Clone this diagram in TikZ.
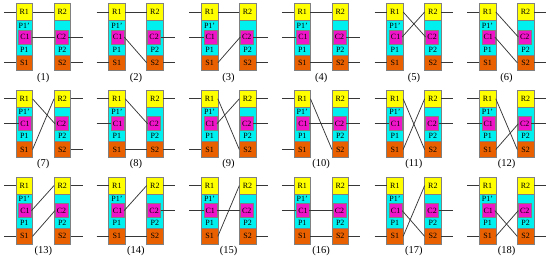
\documentclass[tikz,border=0pt]{standalone}
\usepackage{fontspec}
\setmainfont{Liberation Serif}
\usepackage{tikz}
\definecolor{ryellow}{RGB}{255,255,0}
\definecolor{pcyan}{RGB}{0,240,240}
\definecolor{cmagenta}{RGB}{240,20,200}
\definecolor{sorange}{RGB}{232,96,0}
\definecolor{edgegray}{RGB}{128,128,128}
\definecolor{wiregray}{RGB}{55,55,55}

\begin{document}
\begin{tikzpicture}[x=1pt, y=-1pt,
    box/.style={rectangle, draw=edgegray, line width=0.6pt, inner sep=0pt, outer sep=0pt, anchor=north west, minimum width=16.5pt, font=\fontsize{8}{9}\selectfont},
    rbox/.style={box, fill=ryellow, minimum height=17pt},
    pbox/.style={box, fill=pcyan, minimum height=34.5pt},
    sbox/.style={box, fill=sorange, minimum height=15.5pt},
    cbox/.style={rectangle, draw=edgegray, line width=0.6pt, fill=cmagenta, inner sep=0pt, outer sep=0pt, minimum width=13pt, minimum height=14pt, font=\fontsize{8}{9}\selectfont},
    tag/.style={inner sep=0pt, font=\fontsize{8}{9}\selectfont},
    num/.style={inner sep=0pt, font=\fontsize{10.5}{12}\selectfont},
    wire/.style={draw=wiregray, line width=0.75pt}]

    \useasboundingbox (0,0) rectangle (550,259);

    % number / column / row / left stubs / right stubs / links
    \foreach \idx/\col/\row/\lin/\rout/\links in {
        1/0/0/{R,S}/{C,S}/{R/R,C/C},
        2/1/0/{R,S}/{C,S}/{R/R,C/S},
        3/2/0/{R,C}/{C,S}/{R/R,S/C},
        4/3/0/{R,C}/{C,S}/{R/R,S/S},
        5/4/0/{R,S}/{R,S}/{R/C,C/R},
        6/5/0/{R,S}/{R,S}/{R/C,C/S},
        7/0/1/{R,C}/{R,S}/{R/C,S/R},
        8/1/1/{R,C}/{R,S}/{R/C,S/S},
        9/2/1/{R,S}/{R,C}/{R/S,C/R},
        10/3/1/{R,S}/{R,C}/{R/S,C/C},
        11/4/1/{R,C}/{R,C}/{R/S,S/R},
        12/5/1/{R,C}/{R,C}/{R/S,S/C},
        13/0/2/{R,S}/{R,S}/{C/R,S/C},
        14/1/2/{R,S}/{R,C}/{C/R,S/S},
        15/2/2/{R,C}/{R,S}/{C/C,S/R},
        16/3/2/{R,C}/{R,S}/{C/C,S/S},
        17/4/2/{R,S}/{C,S}/{C/S,S/R},
        18/5/2/{R,S}/{R,S}/{C/S,S/C}} {
        \begin{scope}[shift={({16+92.66*\col},{3.5+86.8*\row})}]
            % left chip
            \node[rbox] (R1-\idx) at (0,0) {R1};
            \node[pbox] (P1-\idx) at (0,17) {};
            \node[sbox] (S1-\idx) at (0,51.5) {S1};
            \node[cbox] (C1-\idx) at (9,33.5) {C1};
            \node[tag] (Pt1-\idx) at (8.25,22) {P1'};
            \node[tag] (Pb1-\idx) at (8.25,46) {P1};
            % right chip
            \node[rbox] (R2-\idx) at (38,0) {R2};
            \node[pbox] (P2-\idx) at (38,17) {};
            \node[sbox] (S2-\idx) at (38,51.5) {S2};
            \node[cbox] (C2-\idx) at (45.5,33.5) {C2};
            \node[tag] (Pb2-\idx) at (46.25,46) {P2};
            \node[num] (N-\idx) at (27.25,74) {(\idx)};

            \coordinate (inR-\idx) at (-12,8.5);
            \coordinate (inC-\idx) at (-12,33.5);
            \coordinate (inS-\idx) at (-12,59.25);
            \coordinate (outR-\idx) at (66.5,8.5);
            \coordinate (outC-\idx) at (66.5,33.5);
            \coordinate (outS-\idx) at (66.5,59.25);

            \foreach \side in \lin {
                \draw[wire] (in\side-\idx) -- (\side1-\idx.west);
            }
            \foreach \side in \rout {
                \draw[wire] (\side2-\idx.east) -- (out\side-\idx);
            }
            \foreach \p/\q in \links {
                \draw[wire] (\p1-\idx.east) -- (\q2-\idx.west);
            }
        \end{scope}
    }
\end{tikzpicture}
\end{document}
